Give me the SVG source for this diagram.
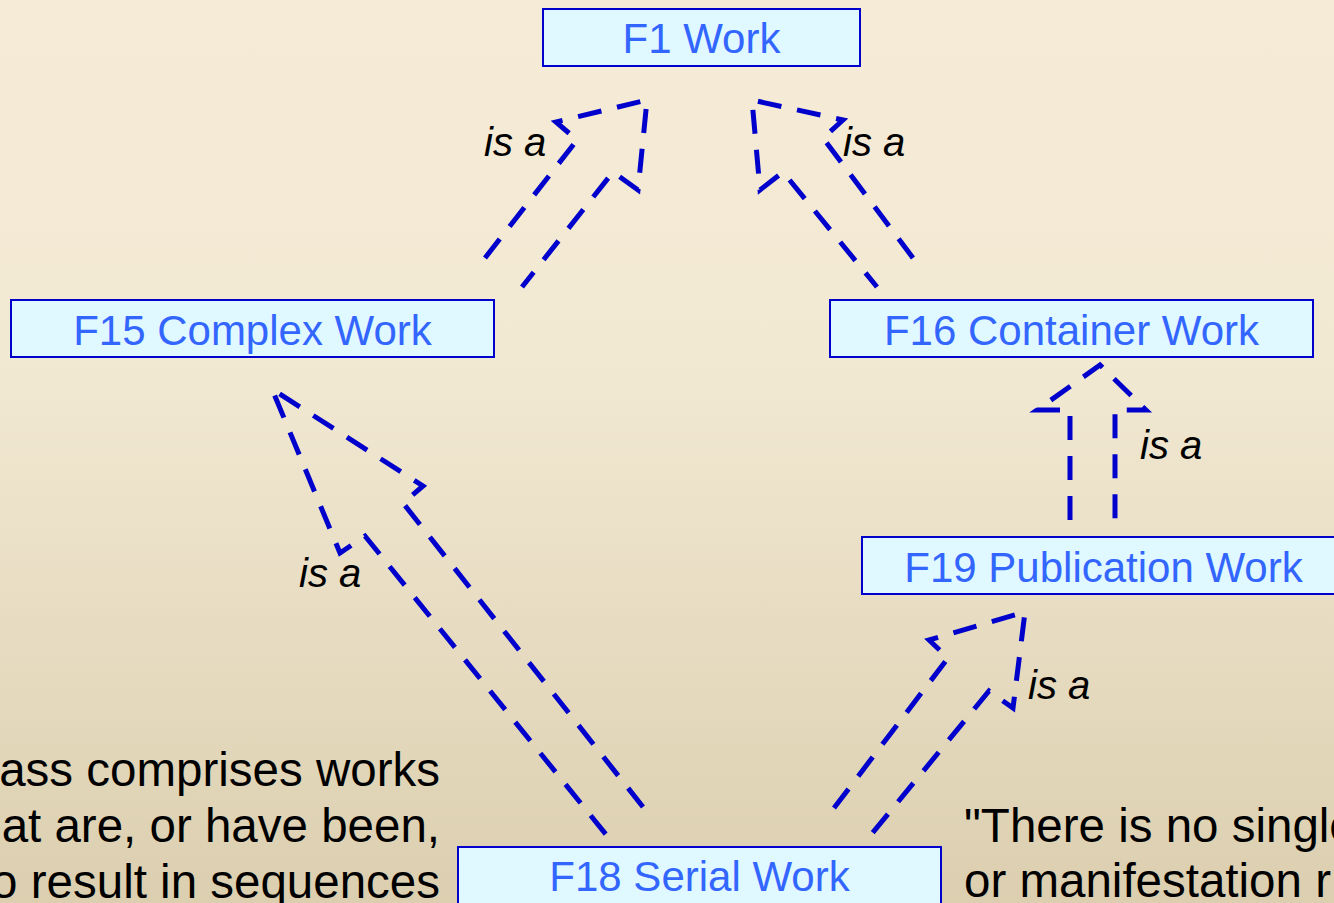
<svg xmlns="http://www.w3.org/2000/svg" width="1334" height="903" viewBox="0 0 1334 903">
<defs>
<linearGradient id="bg" x1="0" y1="0" x2="0" y2="1">
<stop offset="0" stop-color="#F6EBD6"/>
<stop offset="0.4" stop-color="#F2E9D3"/>
<stop offset="1" stop-color="#DCCFB0"/>
</linearGradient>
<style>
.box{fill:#E0F8FF;stroke:#0000CC;stroke-width:2}
.nt{font-family:"Liberation Sans",Arial,sans-serif;font-size:42px;fill:#3366FF;text-anchor:middle}
.lbl{font-family:"Liberation Sans",Arial,sans-serif;font-size:40px;font-style:italic;fill:#000}
.body{font-family:"Liberation Sans",Arial,sans-serif;font-size:47.5px;fill:#000}
.arr{fill:none;stroke:#0000CC;stroke-width:5;stroke-dasharray:24 16;stroke-linejoin:miter}
</style>
</defs>
<rect x="0" y="0" width="1334" height="903" fill="url(#bg)"/>

<g id="connectors">
<polyline class="arr" points="485,258 577,140 556,122 647,100 638,190 613,172 522,287"/>
<polyline class="arr" points="913,258 823,138 843,120 752,100 760,190 783,172 877,287"/>
<polyline class="arr" points="643,807 403,503 423,486 272,389 340,553 365,536 608,837"/>
<polyline class="arr" points="834,808 948,658 929,640 1025,612 1013,708 989,691 870,836"/>
<polyline class="arr" points="1070,520 1070,410 1037,410 1100,365 1146,410 1115,410 1115,520"/>
<text class="lbl" x="484" y="156">is a</text>
<text class="lbl" x="843" y="156">is a</text>
<text class="lbl" x="299" y="587">is a</text>
<text class="lbl" x="1028" y="699">is a</text>
<text class="lbl" x="1140" y="459">is a</text>
</g>

<g id="F1">
<rect class="box" x="543" y="9" width="317" height="57"/>
<text class="nt" x="701.5" y="53">F1 Work</text>
</g>
<g id="F15">
<rect class="box" x="11" y="300" width="483" height="57"/>
<text class="nt" x="252.5" y="345">F15 Complex Work</text>
</g>
<g id="F16">
<rect class="box" x="830" y="300" width="483" height="57"/>
<text class="nt" x="1071.5" y="345">F16 Container Work</text>
</g>
<g id="F19">
<rect class="box" x="862" y="537" width="483" height="57"/>
<text class="nt" x="1103.5" y="582">F19 Publication Work</text>
</g>
<g id="F18">
<rect class="box" x="458" y="847" width="483" height="70"/>
<text class="nt" x="699.5" y="891">F18 Serial Work</text>
</g>

<g id="note-left">
<text class="body" x="440" y="786" text-anchor="end">ass comprises works</text>
<text class="body" x="440" y="842" text-anchor="end">at are, or have been,</text>
<text class="body" x="440" y="898" text-anchor="end">o result in sequences</text>
</g>
<g id="note-right">
<text class="body" x="964" y="842">"There is no single</text>
<text class="body" x="964" y="897">or manifestation r</text>
</g>
</svg>
